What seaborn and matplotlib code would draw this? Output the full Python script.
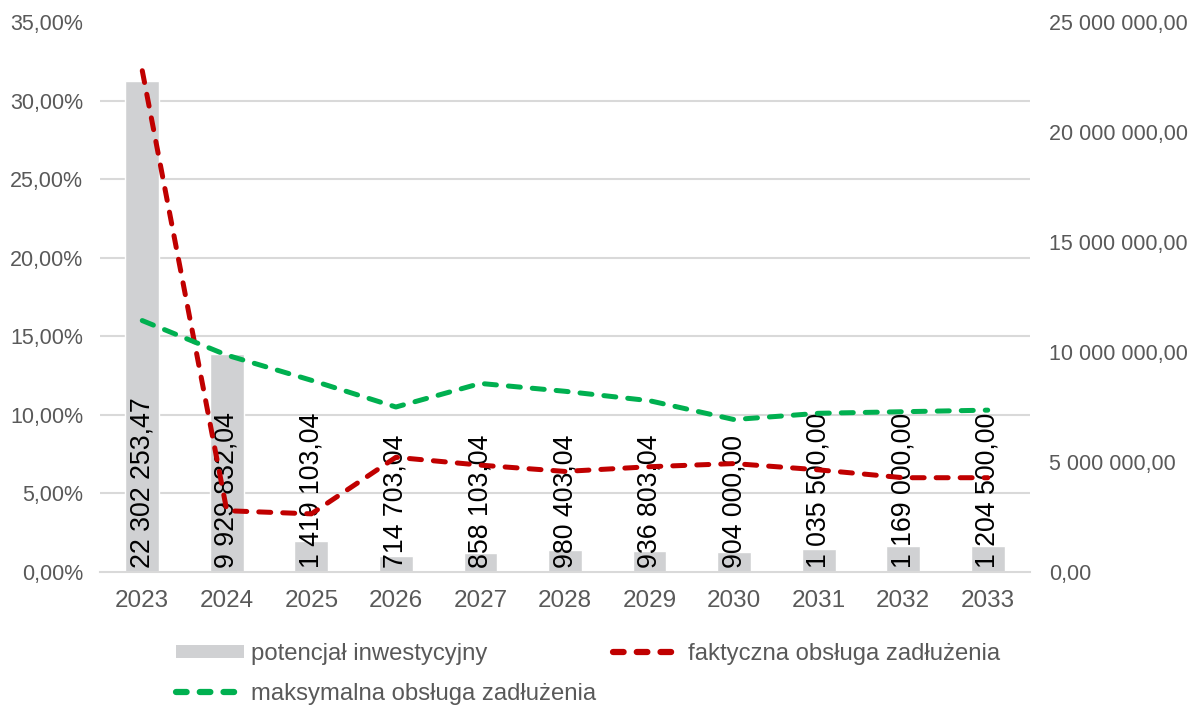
import matplotlib
matplotlib.use("Agg")
import matplotlib.pyplot as plt
import seaborn as sns
import numpy as np
import pandas as pd
from matplotlib.lines import Line2D
from matplotlib.patches import Patch

years = ["2023", "2024", "2025", "2026", "2027", "2028", "2029", "2030", "2031", "2032", "2033"]
potencjal = [22302253.47, 9929832.04, 1419103.04, 714703.04, 858103.04, 980403.04,
             936803.04, 904000.00, 1035500.00, 1169000.00, 1204500.00]
bar_labels = ["22 302 253,47", "9 929 832,04", "1 419 103,04", "714 703,04", "858 103,04",
              "980 403,04", "936 803,04", "904 000,00", "1 035 500,00", "1 169 000,00", "1 204 500,00"]
faktyczna = [31.9, 3.9, 3.7, 7.3, 6.8, 6.4, 6.7, 6.9, 6.5, 6.0, 6.0]
maksymalna = [16.0, 13.8, 12.2, 10.5, 12.0, 11.5, 10.9, 9.7, 10.1, 10.2, 10.3]
left_ticks = [0, 5, 10, 15, 20, 25, 30, 35]
right_ticks = [0, 5e6, 10e6, 15e6, 20e6, 25e6]

sns.set_theme(style="white")
plt.rcParams["font.family"] = ["Liberation Sans", "DejaVu Sans"]

TXT = "#595959"
RED = "#C00000"
GREEN = "#00B050"
BAR = "#D0D1D3"
GRID = "#D9D9D9"
FS_Y = 15.5
FS_X = 17.5
FS_LEG = 17.2

fig = plt.figure(figsize=(11.95, 7.06), dpi=100)
ax = fig.add_axes([100/1195, 1-572/706, 930/1195, 550/706])
ax2 = ax.twinx()

df = pd.DataFrame({"rok": years, "pot": potencjal, "fak": faktyczna, "mak": maksymalna,
                   "pos": np.arange(len(years))})

# bars on right axis
sns.barplot(data=df, x="rok", y="pot", ax=ax2, color=BAR, width=0.4, saturation=1, zorder=2)
ax2.set_ylim(0, 25e6)
ax2.set_yticks(right_ticks)
ax2.set_yticklabels([f"{int(v):,}".replace(",", " ") + ",00" for v in right_ticks])
ax2.set_yticks([t/35*25e6 for t in left_ticks], minor=True)
ax2.grid(False)
ax2.grid(which="minor", axis="y", color=GRID, linewidth=1.5, zorder=0)
ax2.set_axisbelow(True)
ax2.tick_params(axis="y", which="both", length=0, labelsize=FS_Y, labelcolor=TXT, pad=14)
ax2.set_ylabel("")
ax2.set_xlabel("")

for i, lab in enumerate(bar_labels):
    ax2.annotate(lab, xy=(i, 0), xytext=(0, 4), textcoords="offset pixels",
                 rotation=90, ha="center", va="bottom", fontsize=19.3, color="black", zorder=5)

# lines on left axis
ax.set_zorder(ax2.get_zorder() + 1)
ax.patch.set_visible(False)
sns.lineplot(data=df, x="pos", y="fak", ax=ax, color=RED, linewidth=3.6)
sns.lineplot(data=df, x="pos", y="mak", ax=ax, color=GREEN, linewidth=3.6)
for ln in ax.get_lines():
    ln.set_dashes((2.4, 2.4))
    ln.set_dash_capstyle("round")
ax.set_xlim(-0.5, len(years) - 0.5)
ax2.set_xlim(-0.5, len(years) - 0.5)
ax.set_ylim(0, 35)
ax.set_yticks(left_ticks)
ax.set_yticklabels([f"{t},00%" for t in left_ticks])
ax.set_xticks(range(len(years)))
ax.set_xticklabels(years)
ax.tick_params(axis="both", length=0, labelcolor=TXT)
ax.tick_params(axis="y", pad=12, labelsize=FS_Y)
ax.tick_params(axis="x", pad=13, labelsize=FS_X)
ax.set_xlabel("")
ax.set_ylabel("")
ax.grid(False)

for a in (ax, ax2):
    for s in a.spines.values():
        s.set_visible(False)
ax.spines["bottom"].set_visible(True)
ax.spines["bottom"].set_color(GRID)
ax.spines["bottom"].set_linewidth(1.5)

handles = [
    Patch(facecolor=BAR, edgecolor="none", label="potencjał inwestycyjny"),
    Line2D([0], [0], color=GREEN, linewidth=4.5, dashes=(1.7, 2.1), dash_capstyle="round",
           label="maksymalna obsługa zadłużenia"),
    Line2D([0], [0], color=RED, linewidth=4.5, dashes=(1.7, 2.1), dash_capstyle="round",
           label="faktyczna obsługa zadłużenia"),
]
leg = fig.legend(handles=handles, ncol=2, loc="upper left", bbox_to_anchor=(176/1195, 1-643/706),
                 frameon=False, fontsize=FS_LEG, handlelength=2.85, handleheight=0.5,
                 handletextpad=0.3, columnspacing=0.7, labelspacing=0.75,
                 borderaxespad=0, borderpad=0)
for t in leg.get_texts():
    t.set_color(TXT)

fig.savefig("out.png", dpi=100)
